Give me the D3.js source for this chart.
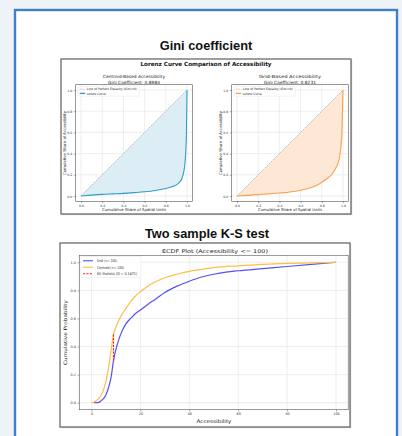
<!doctype html>
<html>
<head>
<meta charset="utf-8">
<style>
    body {
        margin: 0;
        background: #eef3f8;
        font-family: "Liberation Sans", Arial, sans-serif;
    }
    svg { display: block; }
    .tick text { fill: #333; }
</style>
<script src="https://d3js.org/d3.v7.min.js"></script>
</head>
<body>
<div id="page"></div>
<script>
    // Lorenz curves [cumulative share of units, cumulative share of accessibility]
    var lorenzCentroid = [[0,0],[0.1,0.008],[0.2,0.015],[0.3,0.02],[0.4,0.025],[0.5,0.032],[0.6,0.04],
        [0.7,0.052],[0.8,0.07],[0.85,0.085],[0.9,0.105],[0.93,0.13],[0.95,0.16],[0.97,0.23],
        [0.98,0.3],[0.99,0.45],[0.995,0.6],[1,1]];
    var lorenzGrid = [[0,0],[0.1,0.006],[0.2,0.013],[0.3,0.02],[0.4,0.028],[0.5,0.038],[0.6,0.055],
        [0.7,0.08],[0.75,0.1],[0.8,0.13],[0.85,0.165],[0.9,0.21],[0.93,0.26],[0.95,0.3],
        [0.97,0.38],[0.98,0.46],[0.99,0.6],[1,1]];
    var giniCentroid = "0.8984";
    var giniGrid = "0.8231";

    // ECDF values (accessibility <= 100)
    var centroidX = [0,1,2,3,4,5,6,7,8,9,10,11,12,14,16,18,20,23,26,30,35,40,45,50,60,70,80,90,100];
    var centroidY = [0,0.005,0.015,0.03,0.055,0.095,0.16,0.25,0.37,0.487,0.54,0.58,0.615,0.67,0.72,0.76,
        0.79,0.83,0.86,0.89,0.915,0.935,0.95,0.962,0.975,0.985,0.992,0.996,1];
    var gridX = [1,2,3,4,5,6,7,8,9,10,11,12,14,16,18,20,23,26,30,35,40,45,50,55,60,70,80,90,100];
    var gridY = [0,0,0.002,0.015,0.03,0.06,0.11,0.18,0.30,0.38,0.44,0.49,0.56,0.60,0.635,0.66,0.70,
        0.735,0.785,0.83,0.865,0.895,0.915,0.93,0.94,0.955,0.97,0.985,1];
    var ksX = 9, ksLow = 0.30, ksHigh = 0.487, ksD = "0.1871";

    var unitTicks = [0, 0.2, 0.4, 0.6, 0.8, 1.0];
    var accTicks = [0, 20, 40, 60, 80, 100];

    var svg = d3.select("#page").append("svg")
        .attr("width", 402)
        .attr("height", 436);

    // card
    svg.append("rect")
        .attr("x", 15).attr("y", 10)
        .attr("width", 382).attr("height", 440)
        .attr("fill", "white")
        .attr("stroke", "#3f7fcb")
        .attr("stroke-width", 2.4);

    svg.append("text")
        .attr("x", 206).attr("y", 50)
        .attr("text-anchor", "middle")
        .attr("font-size", "12.8px").attr("font-weight", "bold")
        .attr("fill", "#111")
        .text("Gini coefficient");

    svg.append("text")
        .attr("x", 207).attr("y", 237.5)
        .attr("text-anchor", "middle")
        .attr("font-size", "12.8px").attr("font-weight", "bold")
        .attr("fill", "#111")
        .text("Two sample K-S test");

    // framed picture boxes
    function frame(x, y, w, h) {
        svg.append("rect")
            .attr("x", x + 1.2).attr("y", y + 1.2)
            .attr("width", w).attr("height", h)
            .attr("fill", "#d4d4d4");
        svg.append("rect")
            .attr("x", x).attr("y", y)
            .attr("width", w).attr("height", h)
            .attr("fill", "white")
            .attr("stroke", "#6a6a6a")
            .attr("stroke-width", 1.3);
    }
    frame(61, 59, 290, 155);
    frame(60, 243, 290, 184);

    function smallText(g, x, y, txt, size, opts) {
        opts = opts || {};
        var t = g.append("text")
            .attr("x", x).attr("y", y)
            .attr("text-anchor", opts.anchor || "middle")
            .attr("font-family", "'DejaVu Sans', sans-serif")
            .attr("font-size", size + "px")
            .attr("font-weight", opts.bold ? "bold" : "normal")
            .attr("fill", opts.fill || "#222")
            .text(txt);
        if (opts.len) t.attr("textLength", opts.len).attr("lengthAdjust", "spacingAndGlyphs");
        if (opts.rotate) t.attr("transform", "rotate(-90," + x + "," + y + ")");
        return t;
    }

    // axes frame, grid and ticks
    function axesBox(g, x, y, xTicks, yTicks, fmt) {
        var x0 = x.range()[0], x1 = x.range()[1];
        var y0 = y.range()[0], y1 = y.range()[1];
        g.append("g").selectAll("line.gx").data(xTicks).enter().append("line")
            .attr("x1", function(d) { return x(d); }).attr("x2", function(d) { return x(d); })
            .attr("y1", y0).attr("y2", y1)
            .attr("stroke", "#e3e3e3").attr("stroke-width", 0.6);
        g.append("g").selectAll("line.gy").data(yTicks).enter().append("line")
            .attr("y1", function(d) { return y(d); }).attr("y2", function(d) { return y(d); })
            .attr("x1", x0).attr("x2", x1)
            .attr("stroke", "#e3e3e3").attr("stroke-width", 0.6);

        var ax = g.append("g")
            .attr("transform", "translate(0," + y0 + ")")
            .call(d3.axisBottom(x).tickValues(xTicks).tickFormat(fmt.x).tickSize(1.8).tickPadding(1.2));
        var ay = g.append("g")
            .attr("transform", "translate(" + x0 + ",0)")
            .call(d3.axisLeft(y).tickValues(yTicks).tickFormat(fmt.y).tickSize(1.8).tickPadding(1.5));
        [ax, ay].forEach(function(a) {
            a.select(".domain").remove();
            a.selectAll("line").attr("stroke", "#555").attr("stroke-width", 0.5);
            a.selectAll("text")
                .attr("font-family", "'DejaVu Sans', sans-serif")
                .attr("font-size", fmt.size + "px")
                .attr("fill", "#333");
        });
        g.append("rect")
            .attr("x", x0).attr("y", y1)
            .attr("width", x1 - x0).attr("height", y0 - y1)
            .attr("fill", "none").attr("stroke", "#555").attr("stroke-width", 0.6);
    }

    // ---------- Lorenz panels ----------
    smallText(svg, 206, 66.3, "Lorenz Curve Comparison of Accessibility", 5.6, {bold: true, fill: "#111", len: 131});

    function drawLorenz(data, left, lineColor, fillColor, title, gini) {
        var g = svg.append("g");
        var x = d3.scaleLinear().domain([0, 1]).range([left, left + 106]);
        var y = d3.scaleLinear().domain([0, 1]).range([196, 90]);
        var xf = d3.scaleLinear().domain([-0.05, 1.05]).range([x(-0.05), x(1.05)]);
        var yf = d3.scaleLinear().domain([-0.05, 1.05]).range([y(-0.05), y(1.05)]);

        axesBox(g, xf, yf, unitTicks, unitTicks, {x: d3.format(".1f"), y: d3.format(".1f"), size: 3.2});

        // shaded area between equality line and Lorenz curve
        var polygon = [[0, 0], [1, 1]].concat(data.slice().reverse());
        g.append("path")
            .datum(polygon)
            .attr("d", d3.line().x(function(d) { return x(d[0]); }).y(function(d) { return y(d[1]); }))
            .attr("fill", fillColor).attr("stroke", "none");

        g.append("line")
            .attr("x1", x(0)).attr("y1", y(0)).attr("x2", x(1)).attr("y2", y(1))
            .attr("stroke", "#999").attr("stroke-width", 0.6).attr("stroke-dasharray", "2,1");

        g.append("path")
            .datum(data)
            .attr("d", d3.line().curve(d3.curveMonotoneX)
                .x(function(d) { return x(d[0]); }).y(function(d) { return y(d[1]); }))
            .attr("fill", "none").attr("stroke", lineColor).attr("stroke-width", 1.1);

        var cx = (xf.range()[0] + xf.range()[1]) / 2;
        smallText(g, cx, 78.3, title, 4.3, {len: 62});
        smallText(g, cx, 83.6, "Gini Coefficient: " + gini, 4.3, {len: 52});
        smallText(g, cx, 211, "Cumulative Share of Spatial Units", 3.9, {len: 64});
        smallText(g, left - 15, 143, "Cumulative Share of Accessibility", 3.9, {rotate: true, len: 64});

        // legend
        var lx = xf.range()[0] + 2.5, ly = yf.range()[1] + 1.5;
        g.append("rect")
            .attr("x", lx).attr("y", ly).attr("width", 61).attr("height", 10)
            .attr("fill", "white").attr("fill-opacity", 0.85)
            .attr("stroke", "#ddd").attr("stroke-width", 0.4).attr("rx", 0.8);
        g.append("line")
            .attr("x1", lx + 1.5).attr("x2", lx + 7).attr("y1", ly + 3).attr("y2", ly + 3)
            .attr("stroke", "#999").attr("stroke-width", 0.6).attr("stroke-dasharray", "1.5,1");
        g.append("line")
            .attr("x1", lx + 1.5).attr("x2", lx + 7).attr("y1", ly + 7.2).attr("y2", ly + 7.2)
            .attr("stroke", lineColor).attr("stroke-width", 1.3);
        smallText(g, lx + 8.5, ly + 4.2, "Line of Perfect Equality (Gini=0)", 3.1, {anchor: "start", len: 50});
        smallText(g, lx + 8.5, ly + 8.4, "Lorenz Curve", 3.1, {anchor: "start", len: 19});
    }

    drawLorenz(lorenzCentroid, 81, "#2e9ccb", "#dcedf6", "Centroid-Based Accessibility", giniCentroid);
    drawLorenz(lorenzGrid, 237, "#f7a14f", "#fde8d6", "Grid-Based Accessibility", giniGrid);

    // ---------- ECDF panel ----------
    var ex = d3.scaleLinear().domain([0, 100]).range([91.5, 336]);
    var ey = d3.scaleLinear().domain([0, 1]).range([402.7, 262.3]);
    var exf = d3.scaleLinear().domain([-5, 105]).range([ex(-5), ex(105)]);
    var eyf = d3.scaleLinear().domain([-0.05, 1.05]).range([ey(-0.05), ey(1.05)]);
    var eg = svg.append("g");

    axesBox(eg, exf, eyf, accTicks, unitTicks, {x: d3.format("d"), y: d3.format(".1f"), size: 3.4});

    var ecdfLine = d3.line().curve(d3.curveMonotoneX)
        .x(function(d) { return ex(d[0]); }).y(function(d) { return ey(d[1]); });

    eg.append("path")
        .datum(d3.zip(gridX, gridY))
        .attr("d", ecdfLine)
        .attr("fill", "none").attr("stroke", "#5252f2").attr("stroke-width", 1.2);
    eg.append("path")
        .datum(d3.zip(centroidX, centroidY))
        .attr("d", ecdfLine)
        .attr("fill", "none").attr("stroke", "#ffbd4a").attr("stroke-width", 1.2);
    eg.append("line")
        .attr("x1", ex(ksX)).attr("x2", ex(ksX))
        .attr("y1", ey(ksLow)).attr("y2", ey(ksHigh))
        .attr("stroke", "#ff1f1f").attr("stroke-width", 1.2).attr("stroke-dasharray", "2.2,1.2");

    smallText(eg, 215, 252.5, "ECDF Plot (Accessibility <= 100)", 5.2, {len: 106});
    smallText(eg, 214, 423, "Accessibility", 5, {len: 35});
    smallText(eg, 66.5, 332.5, "Cumulative Probability", 4.7, {rotate: true, len: 65});

    // legend
    var legendItems = [
        {label: "Grid (<= 100)", color: "#5252f2", dash: null, len: 20},
        {label: "Centroid (<= 100)", color: "#ffbd4a", dash: null, len: 27},
        {label: "KS Statistic (D = " + ksD + ")", color: "#ff1f1f", dash: "2.2,1.2", len: 40}
    ];
    var lgx = 81, lgy = 256.5;
    eg.append("rect")
        .attr("x", lgx).attr("y", lgy).attr("width", 60).attr("height", 21)
        .attr("fill", "white").attr("fill-opacity", 0.85)
        .attr("stroke", "#ddd").attr("stroke-width", 0.4).attr("rx", 1);
    legendItems.forEach(function(d, i) {
        var yy = lgy + 4.3 + i * 6.5;
        eg.append("line")
            .attr("x1", lgx + 2).attr("x2", lgx + 12).attr("y1", yy).attr("y2", yy)
            .attr("stroke", d.color).attr("stroke-width", 1.1)
            .attr("stroke-dasharray", d.dash);
        smallText(eg, lgx + 16, yy + 1.3, d.label, 3.8, {anchor: "start", len: d.len});
    });
</script>
</body>
</html>
